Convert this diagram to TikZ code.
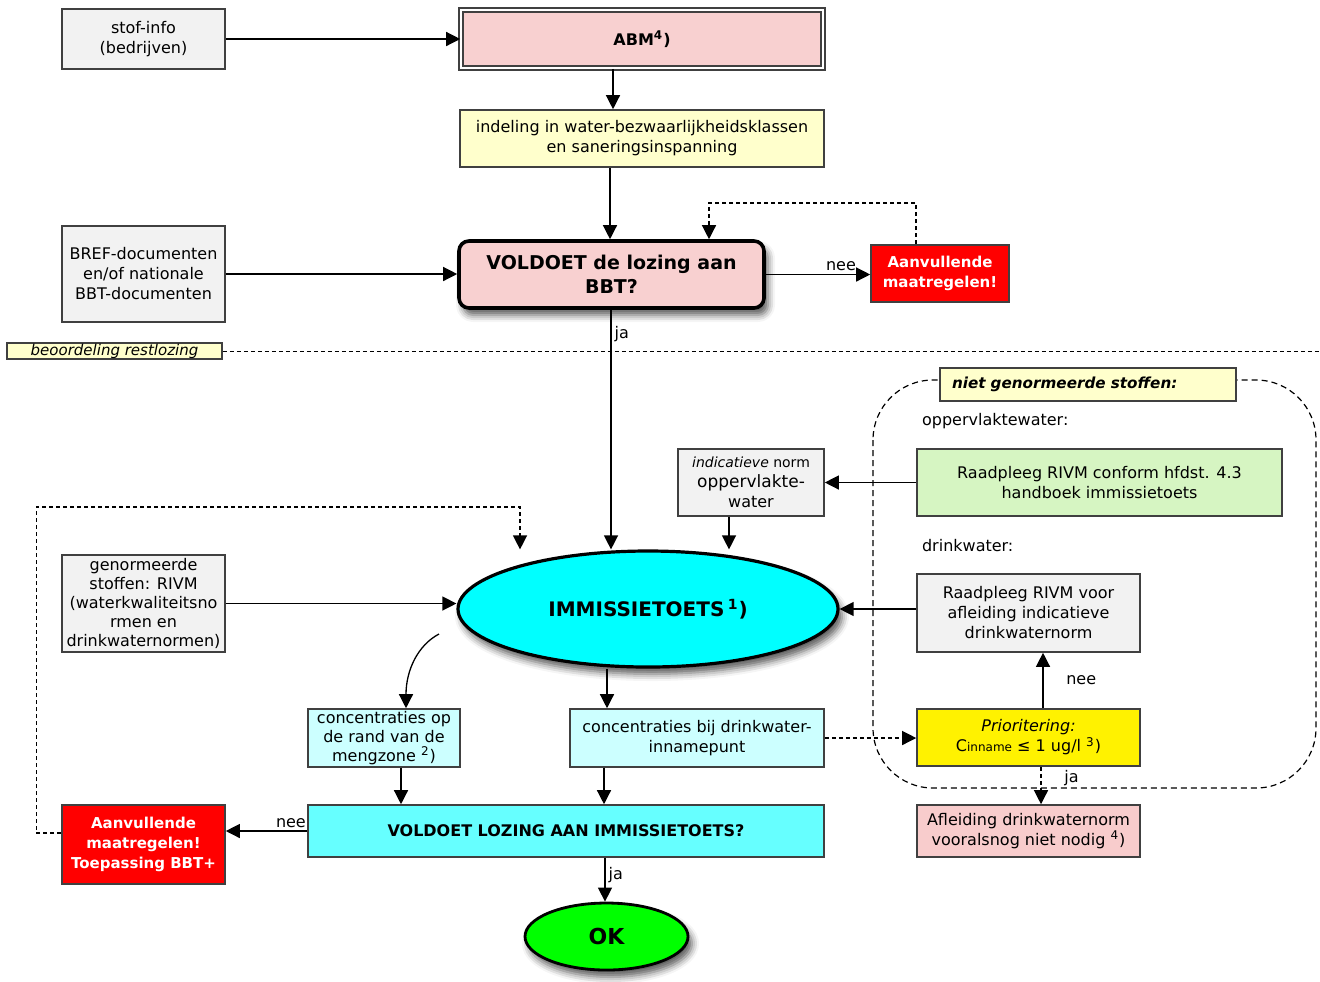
\documentclass[tikz,border=0pt]{standalone}
\usepackage{fontspec}
\setmainfont{DejaVu Sans}
\usetikzlibrary{arrows.meta,shapes,shadows.blur}

\definecolor{boxgray}{HTML}{F2F2F2}
\definecolor{abmpink}{HTML}{F8D0D0}
\definecolor{aflpink}{HTML}{F8CCCC}
\definecolor{paleyellow}{HTML}{FFFFCC}
\definecolor{palegreen}{HTML}{D6F5C2}
\definecolor{palecyan}{HTML}{CCFFFF}
\definecolor{voldcyan}{HTML}{66FFFF}
\definecolor{immcyan}{HTML}{00FFFF}
\definecolor{okgreen}{HTML}{00FF00}

\begin{document}
\begin{tikzpicture}[x=0.5pt,y=-0.5pt,
    every node/.style={font=\fontsize{8}{10}\selectfont},
    box/.style={draw=black!75,line width=0.8pt,align=center,inner sep=1pt},
    graybox/.style={box,fill=boxgray},
    redbox/.style={box,fill=red,text=white,font=\fontsize{7.5}{10}\selectfont\bfseries},
    softshadow/.style={blur shadow={shadow xshift=2pt,shadow yshift=-3.5pt,shadow blur radius=3.5pt,shadow opacity=65}},
    arr/.style={-{Triangle[length=7pt,width=7pt]},line width=0.65pt},
    dashline/.style={dash pattern=on 2pt off 1.5pt},
    lbl/.style={inner sep=1.5pt}
  ]
  \useasboundingbox (0,0) rectangle (1320,981);

  % kader niet genormeerde stoffen
  \draw[rounded corners=30pt,dash pattern=on 3pt off 2pt,line width=0.6pt] (873,380) rectangle (1316,788);

  % bovenste deel: BBT
  \node[graybox,minimum width=81.5pt,minimum height=30pt] (stof) at (143.5,39) {stof-info\\(bedrijven)};
  \node[box,fill=abmpink,double,double distance=1.2pt,minimum width=181pt,minimum height=29pt,
        font=\fontsize{8}{10}\selectfont\bfseries] (abm) at (642,39) {ABM\textsuperscript{4})};
  \node[box,fill=paleyellow,minimum width=182pt,minimum height=28.5pt] (indeling) at (642,138.5)
        {indeling in water-bezwaarlijkheidsklassen\\en saneringsinspanning};
  \node[box,fill=abmpink,draw=black,rounded corners=5pt,line width=1.8pt,minimum width=152.5pt,minimum height=33.5pt,
        softshadow,font=\fontsize{9.5}{12}\selectfont\bfseries] (bbt) at (611.5,274.5) {VOLDOET de lozing aan\\BBT?};
  \node[graybox,minimum width=81.5pt,minimum height=48pt] (bref) at (143.5,274)
        {BREF-documenten\\en/of nationale\\BBT-documenten};
  \node[redbox,minimum width=69pt,minimum height=28.5pt] (aanvtop) at (940,273.5) {Aanvullende\\maatregelen!};
  \node[box,fill=paleyellow,minimum width=107.5pt,minimum height=8pt,inner sep=0.5pt,
        font=\fontsize{7.5}{8}\selectfont\itshape] (beoord) at (114.5,351) {beoordeling restlozing};

  % immissietoets
  \node[box,fill=paleyellow,minimum height=16.5pt,inner xsep=6pt,text width=136pt,align=left,
        font=\fontsize{7.6}{10}\selectfont\bfseries\itshape] (nietgen) at (1088,384.5) {niet genormeerde stoffen:};
  \node[anchor=west] (oppw) at (915,421) {oppervlaktewater:};
  \node[box,fill=palegreen,minimum width=182.5pt,minimum height=33.5pt] (rivmopp) at (1099.5,482.5)
        {Raadpleeg RIVM conform hfdst. 4.3\\handboek immissietoets};
  \node[graybox,minimum width=73pt,minimum height=33.5pt,inner sep=0.5pt] (indic) at (751,482.5)
        {\fontsize{7}{9}\selectfont\textit{indicatieve} norm\\\fontsize{8.5}{10}\selectfont oppervlakte-\\water};
  \node[anchor=west] (drinkw) at (915,546) {drinkwater:};
  \node[graybox,minimum width=111.5pt,minimum height=39pt] (rivmdrink) at (1028.5,613)
        {Raadpleeg RIVM voor\\afleiding indicatieve\\drinkwaternorm};
  \node[ellipse,draw=black,line width=1.6pt,fill=immcyan,minimum width=190pt,minimum height=58pt,
        softshadow,font=\fontsize{10}{12}\selectfont\bfseries] (imm) at (648,609) {IMMISSIETOETS\,\textsuperscript{1})};
  \node[graybox,minimum width=81.5pt,minimum height=48.5pt,inner sep=0.5pt,font=\fontsize{8}{9.5}\selectfont] (genorm) at (143.5,603.5)
        {genormeerde\\stoffen: RIVM\\(waterkwaliteitsno\\rmen en\\drinkwaternormen)};
  \node[box,fill=palecyan,minimum width=76pt,minimum height=29pt,inner sep=0pt,font=\fontsize{8}{9.5}\selectfont] (conc1) at (384,738)
        {concentraties op\\de rand van de\\mengzone \textsuperscript{2})};
  \node[box,fill=palecyan,minimum width=127pt,minimum height=29pt] (conc2) at (697,738)
        {concentraties bij drinkwater-\\innamepunt};
  \node[box,fill=yellow,minimum width=111.5pt,minimum height=28.5pt] (prior) at (1028.5,737.5)
        {\textit{Prioritering:}\\C{\fontsize{6}{6}\selectfont inname} ≤ 1 ug/l \textsuperscript{3})};
  \node[box,fill=aflpink,minimum width=111.5pt,minimum height=26pt] (afl) at (1028.5,831)
        {Afleiding drinkwaternorm\\vooralsnog niet nodig \textsuperscript{4})};
  \node[box,fill=voldcyan,minimum width=258pt,minimum height=26pt,
        font=\fontsize{8}{10}\selectfont\bfseries] (vold) at (566,831) {VOLDOET LOZING AAN IMMISSIETOETS?};
  \node[redbox,minimum width=81.5pt,minimum height=39.5pt] (aanvbot) at (143.5,844.5)
        {Aanvullende\\maatregelen!\\Toepassing BBT+};
  \node[ellipse,draw=black,line width=1.4pt,fill=okgreen,minimum width=81.5pt,minimum height=33.5pt,
        softshadow,font=\fontsize{11}{13}\selectfont\bfseries] (ok) at (606.5,936.5) {OK};

  % verbindingen
  \draw[arr] (stof) -- (abm);
  \draw[arr] (613,0 |- abm.south) -- (613,0 |- indeling.north);
  \draw[arr] (610,0 |- indeling.south) -- (610,0 |- bbt.north);
  \draw[arr] (bref.east) -- (bref.east -| bbt.west);
  \draw[arr] (bbt.east) -- node[above,pos=0.72,lbl]{nee} (bbt.east -| aanvtop.west);
  \draw[arr,dashline] (916,0 |- aanvtop.north) -- (916,203) -- (709,203) -- (709,0 |- bbt.north);
  \draw[arr] (611,0 |- bbt.south) -- node[right,pos=0.1,lbl]{ja} (611,0 |- imm.north);
  \draw[dashline] (beoord.east) -- (1320,0 |- beoord.east);
  \draw[arr,dashline] ([yshift=5.75pt]aanvbot.west) -- ++(-12.5pt,0) |- (520,507) -- (520,0 |- imm.north);
  \draw[arr] (genorm.east) -- (genorm.east -| imm.west);
  \draw[arr] (rivmopp.west) -- (rivmopp.west -| indic.east);
  \draw[arr] (729,0 |- indic.south) -- (729,0 |- imm.north);
  \draw[arr] (rivmdrink.west |- imm.east) -- (imm.east);
  \coordinate (curvestart) at (439,634);
  \draw[arr] (curvestart) .. controls (418,645) and (406,670) .. (406,0 |- conc1.north);
  \draw[arr] (607,0 |- imm.south) -- (607,0 |- conc2.north);
  \draw[arr,dashline] (conc2.east) -- (conc2.east -| prior.west);
  \draw[arr] (1043,0 |- prior.north) -- node[right=8pt]{nee} (1043,0 |- rivmdrink.south);
  \draw[arr,dashline] (1041,0 |- prior.south) -- node[right=8pt,pos=0.3]{ja} (1041,0 |- afl.north);
  \draw[arr] (401,0 |- conc1.south) -- (401,0 |- vold.north);
  \draw[arr] (604,0 |- conc2.south) -- (604,0 |- vold.north);
  \draw[arr] (vold.west) -- node[above,pos=0.2,lbl]{nee} (vold.west -| aanvbot.east);
  \draw[arr] (605,0 |- vold.south) -- node[right,pos=0.4,lbl]{ja} (605,0 |- ok.north);
\end{tikzpicture}
\end{document}
